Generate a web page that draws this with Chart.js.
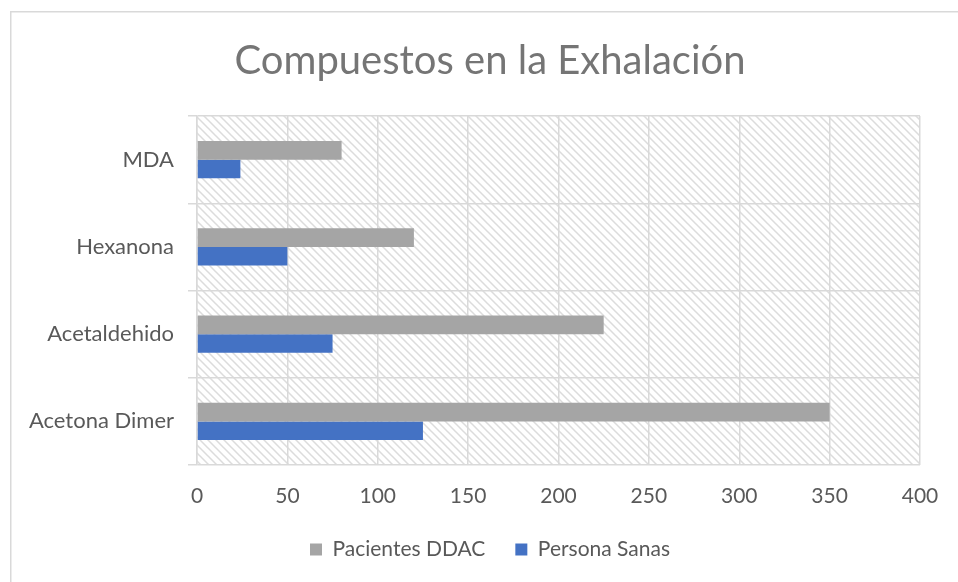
<!DOCTYPE html>
<html><head><meta charset="utf-8">
<script src="https://cdn.jsdelivr.net/npm/chart.js@4"></script>
<style>html,body{margin:0;padding:0;background:#fff;overflow:hidden}#wrap{width:958px;height:582px;position:relative}</style>
</head><body><div id="wrap"><canvas id="c" width="958" height="582"></canvas></div>
<script>
const categories = ['MDA', 'Hexanona', 'Acetaldehido', 'Acetona Dimer'];
const seriesNames = ['Pacientes DDAC', 'Persona Sanas'];
const pacientesDDAC = [80, 120, 225, 350];
const personaSanas = [24, 50, 75, 125];
const xMin = 0, xMax = 400, xStep = 50;
const titleText = 'Compuestos en la Exhalación';

const FONT = 'Lato';

function makeHatch() {
  const s = 8;
  const c = document.createElement('canvas');
  c.width = s; c.height = s;
  const g = c.getContext('2d');
  g.fillStyle = '#ffffff';
  g.fillRect(0, 0, s, s);
  g.strokeStyle = '#dcdcdc';
  g.lineWidth = 1.5;
  g.beginPath();
  g.moveTo(-1, -1); g.lineTo(s + 1, s + 1);
  g.moveTo(-1, s - 1); g.lineTo(1, s + 1);
  g.moveTo(s - 1, -1); g.lineTo(s + 1, 1);
  g.stroke();
  return g.createPattern(c, 'repeat');
}

const bgPlugin = {
  id: 'bg',
  beforeDraw(chart) {
    const ctx = chart.ctx;
    const a = chart.chartArea;
    ctx.save();
    ctx.fillStyle = '#ffffff';
    ctx.fillRect(0, 0, chart.width, chart.height);
    ctx.strokeStyle = '#d9d9d9';
    ctx.lineWidth = 1.5;
    ctx.strokeRect(10.75, 11.75, 1000, 1000);
    ctx.fillStyle = makeHatch();
    ctx.fillRect(a.left, a.top, a.right - a.left, a.bottom - a.top);
    ctx.restore();
  }
};

new Chart(document.getElementById('c'), {
  type: 'bar',
  data: {
    labels: categories,
    datasets: [
      { label: seriesNames[0], data: pacientesDDAC, backgroundColor: '#a5a5a5', borderWidth: 0 },
      { label: seriesNames[1], data: personaSanas, backgroundColor: '#4472c4', borderWidth: 0 }
    ]
  },
  options: {
    indexAxis: 'y',
    responsive: false,
    animation: false,
    devicePixelRatio: 1,
    categoryPercentage: 0.425,
    barPercentage: 1.0,
    layout: { padding: { left: 10, right: -12, top: 0, bottom: 12 } },
    plugins: {
      tooltip: { enabled: false },
      title: {
        display: true,
        text: titleText,
        color: '#757575',
        font: { family: FONT, size: 40, weight: 'normal', lineHeight: 1.2 },
        padding: { top: 37, bottom: 31 }
      },
      legend: {
        position: 'bottom',
        labels: {
          color: '#595959',
          font: { family: FONT, size: 21 },
          boxWidth: 12,
          boxHeight: 12,
          padding: 30
        }
      }
    },
    scales: {
      x: {
        min: xMin, max: xMax,
        ticks: { stepSize: xStep, color: '#595959', font: { family: FONT, size: 21 }, padding: 19 },
        grid: { color: '#d9d9d9', lineWidth: 1.5, drawTicks: false },
        border: { display: false },
        afterFit(scale) { scale.height = 44; }
      },
      y: {
        ticks: { color: '#595959', font: { family: FONT, size: 22 }, padding: 14 },
        grid: { color: '#d9d9d9', lineWidth: 1.5, tickLength: 9, offset: true },
        border: { display: true, color: '#d9d9d9', width: 1.5 },
        afterFit(scale) { scale.width = 187; }
      },
      yRight: {
        type: 'category',
        position: 'right',
        display: true,
        ticks: { display: false },
        grid: { display: false, drawOnChartArea: false },
        border: { display: false },
        afterFit(scale) { scale.width = 50; }
      }
    }
  },
  plugins: [bgPlugin]
});
</script>
</body></html>
